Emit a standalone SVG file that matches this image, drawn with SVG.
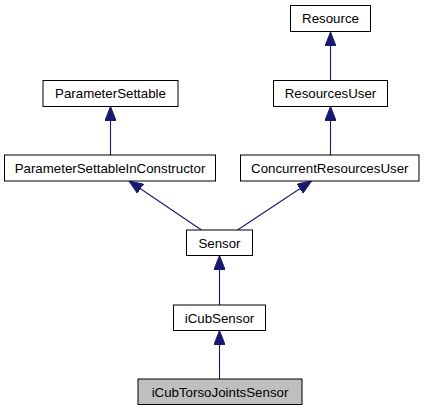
<svg xmlns="http://www.w3.org/2000/svg" width="425" height="411" viewBox="0 0 425 411">
<defs>
<style>
.n rect{fill:#fff;stroke:#000;stroke-width:1}
.n.h rect{fill:#bfbfbf}
.n text{font-family:"Liberation Sans",Arial,sans-serif;font-size:13.3px;text-anchor:middle;fill:#000}
.e path{fill:none;stroke:#191970;stroke-width:1.1;marker-end:url(#ah)}
</style>
<marker id="ah" viewBox="0 0 14 11" refX="14" refY="5.5" markerWidth="14" markerHeight="11" markerUnits="userSpaceOnUse" orient="auto">
<path d="M0,0 L14,5.5 L0,11 z" fill="#191970" stroke="#191970" stroke-width="1"/>
</marker>
</defs>
<rect width="425" height="411" fill="#fff"/>
<g id="edges" class="e">
<path d="M330.5,80 L330.5,32"/>
<path d="M330.5,155 L330.5,106.5"/>
<path d="M110.5,155 L110.5,106.5"/>
<path d="M201.5,230 L129,181"/>
<path d="M237.5,230 L311.5,181"/>
<path d="M219.5,305 L219.5,255.5"/>
<path d="M219.5,379 L219.5,330.5"/>
</g>
<g id="Resource" class="n"><rect x="290.5" y="5.5" width="80" height="26"/><text x="330.5" y="23">Resource</text></g>
<g id="ResourcesUser" class="n"><rect x="273.5" y="80.5" width="114" height="26"/><text x="330.5" y="98">ResourcesUser</text></g>
<g id="ParameterSettable" class="n"><rect x="43" y="80.5" width="135" height="26"/><text x="110.5" y="98">ParameterSettable</text></g>
<g id="ParameterSettableInConstructor" class="n"><rect x="4.5" y="155" width="211" height="26"/><text x="110" y="172.5">ParameterSettableInConstructor</text></g>
<g id="ConcurrentResourcesUser" class="n"><rect x="240.5" y="155" width="178.5" height="26"/><text x="329.8" y="172.5">ConcurrentResourcesUser</text></g>
<g id="Sensor" class="n"><rect x="186.5" y="230" width="66" height="25.5"/><text x="219.5" y="247.5">Sensor</text></g>
<g id="iCubSensor" class="n"><rect x="173.5" y="305" width="92" height="25.5"/><text x="219.5" y="322.5">iCubSensor</text></g>
<g id="iCubTorsoJointsSensor" class="n h"><rect x="138" y="379" width="164" height="25.5"/><text x="220" y="396.5">iCubTorsoJointsSensor</text></g>
</svg>
